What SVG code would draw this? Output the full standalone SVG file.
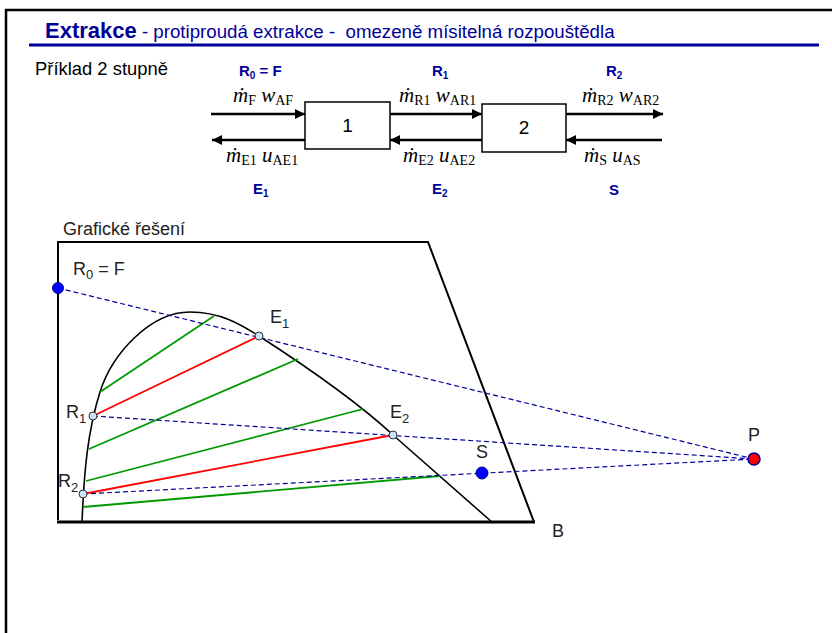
<svg xmlns="http://www.w3.org/2000/svg" width="832" height="633" viewBox="0 0 832 633">
<style>
.frame{stroke:#000;stroke-width:2.5;fill:none}
.title{font-family:"Liberation Sans",Arial,sans-serif;fill:#000099}
.lbl{font-family:"Liberation Sans",Arial,sans-serif;font-size:18.4px;fill:#000}
.blue{font-family:"Liberation Sans",Arial,sans-serif;font-size:15px;font-weight:bold;fill:#000099}
.math{font-family:"Liberation Serif","DejaVu Serif",serif;font-size:21px;fill:#000}
.it{font-style:italic}
.sub{font-size:14px}
.box{fill:#fff;stroke:#000;stroke-width:1.5}
.boxt{font-family:"Liberation Sans",Arial,sans-serif;font-size:19px;text-anchor:middle;fill:#000}
.flow{stroke:#000;stroke-width:2.5;fill:none}
.gl{font-family:"Liberation Sans",Arial,sans-serif;font-size:18px;fill:#222}
.dash{stroke:#000099;stroke-width:1.2;stroke-dasharray:5,3;fill:none}
.tie{stroke:#009900;stroke-width:1.8;fill:none}
.red{stroke:#ff0000;stroke-width:1.8;fill:none}
.pt{fill:#c8e4f8;stroke:#333;stroke-width:1}
.big{fill:#0000ff;stroke:#000080;stroke-width:1}
</style>
<defs>
<marker id="ah" markerWidth="10" markerHeight="10" refX="10" refY="5" orient="auto" markerUnits="userSpaceOnUse">
<path d="M0,0 L10,5 L0,10 Z" fill="#000"/>
</marker>
</defs>
<rect width="832" height="633" fill="#fff"/>
<path class="frame" d="M832,10 H6 V633"/>
<text class="title" x="45" y="38" xml:space="preserve"><tspan font-size="22" font-weight="bold">Extrakce</tspan><tspan font-size="18.7"> - protiproudá extrakce -  omezeně mísitelná rozpouštědla</tspan></text>
<rect x="29" y="43.5" width="790" height="3" fill="#000099"/>
<text class="lbl" x="35" y="75">Příklad 2 stupně</text>

<g id="connectors">
<line class="flow" x1="211" y1="114" x2="305" y2="114" marker-end="url(#ah)"/>
<line class="flow" x1="305" y1="140" x2="212" y2="140" marker-end="url(#ah)"/>
<line class="flow" x1="390" y1="114" x2="482" y2="114" marker-end="url(#ah)"/>
<line class="flow" x1="482" y1="140" x2="390" y2="140" marker-end="url(#ah)"/>
<line class="flow" x1="566" y1="114" x2="663" y2="114" marker-end="url(#ah)"/>
<line class="flow" x1="662" y1="140" x2="566" y2="140" marker-end="url(#ah)"/>
</g>
<g id="stage1">
<rect class="box" x="305" y="102" width="85" height="47"/>
<text class="boxt" x="347.5" y="132">1</text>
</g>
<g id="stage2">
<rect class="box" x="482" y="104" width="84" height="48"/>
<text class="boxt" x="524" y="134">2</text>
</g>
<g id="flowlabels">
<text class="blue" x="239" y="76">R<tspan font-size="10" dy="3">0</tspan><tspan dy="-3"> = F</tspan></text>
<text class="blue" x="432" y="76">R<tspan font-size="10" dy="3">1</tspan></text>
<text class="blue" x="606" y="76">R<tspan font-size="10" dy="3">2</tspan></text>
<text class="blue" x="253" y="194">E<tspan font-size="10" dy="3">1</tspan></text>
<text class="blue" x="432" y="194">E<tspan font-size="10" dy="3">2</tspan></text>
<text class="blue" x="609" y="195">S</text>
<text class="math" x="233" y="102"><tspan class="it">ṁ</tspan><tspan class="sub" dy="3">F</tspan><tspan class="it" dy="-3"> w</tspan><tspan class="sub" dy="3">AF</tspan></text>
<text class="math" x="226" y="162"><tspan class="it">ṁ</tspan><tspan class="sub" dy="3">E1</tspan><tspan class="it" dy="-3"> u</tspan><tspan class="sub" dy="3">AE1</tspan></text>
<text class="math" x="399" y="102"><tspan class="it">ṁ</tspan><tspan class="sub" dy="3">R1</tspan><tspan class="it" dy="-3"> w</tspan><tspan class="sub" dy="3">AR1</tspan></text>
<text class="math" x="403" y="162"><tspan class="it">ṁ</tspan><tspan class="sub" dy="3">E2</tspan><tspan class="it" dy="-3"> u</tspan><tspan class="sub" dy="3">AE2</tspan></text>
<text class="math" x="582" y="102"><tspan class="it">ṁ</tspan><tspan class="sub" dy="3">R2</tspan><tspan class="it" dy="-3"> w</tspan><tspan class="sub" dy="3">AR2</tspan></text>
<text class="math" x="584" y="162"><tspan class="it">ṁ</tspan><tspan class="sub" dy="3">S</tspan><tspan class="it" dy="-3"> u</tspan><tspan class="sub" dy="3">AS</tspan></text>
</g>

<g id="graph">
<text class="gl" x="63" y="235">Grafické řešení</text>
<path d="M58,520 V242 H428 L534,522" fill="none" stroke="#000" stroke-width="2"/>
<line x1="57" y1="522" x2="535" y2="522" stroke="#000" stroke-width="3"/>
<path d="M82,523 C84,470 88,430 100,392 C112,354 150,312 190,312 C220,312 240,324 259,336 C290,356 350,395 393,435 L493,523" fill="none" stroke="#000" stroke-width="1.6"/>
<g id="tielines">
<line class="tie" x1="100" y1="392" x2="214" y2="316"/>
<line class="tie" x1="89" y1="449" x2="298" y2="359"/>
<line class="tie" x1="86" y1="481" x2="363" y2="409"/>
<line class="tie" x1="83" y1="507" x2="440" y2="476"/>
<line class="red" x1="93" y1="416" x2="259" y2="336"/>
<line class="red" x1="83" y1="494" x2="393" y2="435"/>
</g>
<g id="operating-lines">
<line class="dash" x1="58" y1="288" x2="754" y2="459"/>
<line class="dash" x1="93" y1="416" x2="754" y2="459"/>
<line class="dash" x1="83" y1="494" x2="754" y2="459"/>
</g>
<g id="F"><circle class="big" cx="58" cy="288" r="5.5"/><text class="gl" x="73" y="275">R<tspan font-size="13" dy="4">0</tspan><tspan dy="-4"> = F</tspan></text></g>
<g id="E1"><circle class="pt" cx="259" cy="336" r="4"/><text class="gl" x="270" y="323">E<tspan font-size="13" dy="5">1</tspan></text></g>
<g id="R1"><circle class="pt" cx="93" cy="416" r="4"/><text class="gl" x="66" y="418">R<tspan font-size="13" dy="5">1</tspan></text></g>
<g id="E2"><circle class="pt" cx="393" cy="435" r="4"/><text class="gl" x="390" y="418">E<tspan font-size="13" dy="5">2</tspan></text></g>
<g id="R2"><circle class="pt" cx="83" cy="494" r="4"/><text class="gl" x="58" y="487">R<tspan font-size="13" dy="5">2</tspan></text></g>
<g id="S"><circle class="big" cx="482" cy="473" r="6"/><text class="gl" x="476" y="458">S</text></g>
<g id="P"><circle cx="754" cy="459" r="6" fill="#ff0000" stroke="#000099" stroke-width="1.5"/><text class="gl" x="748" y="441">P</text></g>
<g id="B"><text class="gl" x="552" y="537">B</text></g>
</g>
</svg>
